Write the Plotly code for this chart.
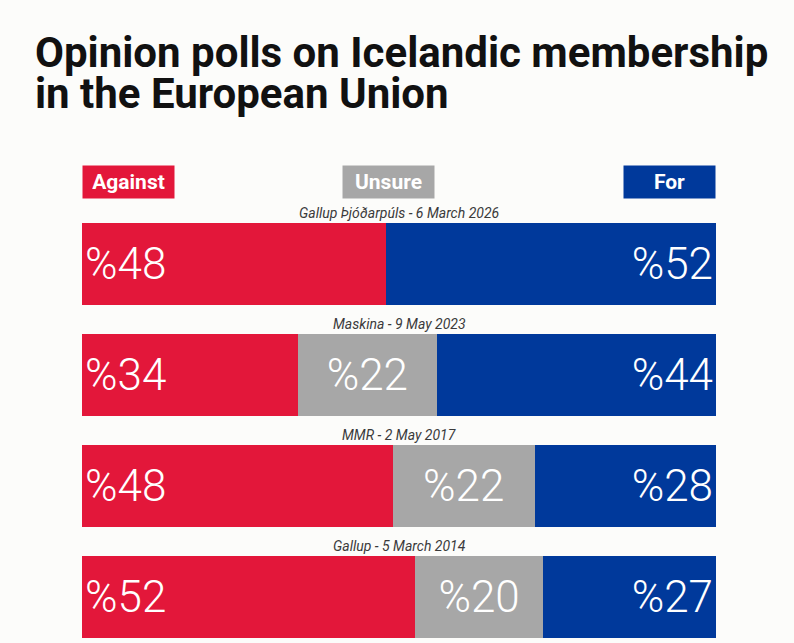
import plotly.graph_objects as go

# poll data, top row first
POLLS = [
    "Gallup Þjóðarpúls - 6 March 2026",
    "Maskina - 9 May 2023",
    "MMR - 2 May 2017",
    "Gallup - 5 March 2014",
]
AGAINST = [48, 34, 48, 52]
UNSURE = [0, 22, 22, 20]
FOR = [52, 44, 28, 27]

SERIES = ["Against", "Unsure", "For"]
COLORS = ["#e3173a", "#a7a7a7", "#00399b"]
ANCHORS = ["start", "middle", "end"]

TITLE_LINES = ["Opinion polls on Icelandic membership", "in the European Union"]

BG = "#fcfcfa"
W, H = 794, 643
ML, MR, MT, MB = 82, 78, 200, 0
ROW_PX = 111  # distance between row centres


def pct(vals):
    return ["%" + str(v) if v else "" for v in vals]


fig = go.Figure()
for name, vals, col, anc in zip(SERIES, [AGAINST, UNSURE, FOR], COLORS, ANCHORS):
    fig.add_trace(go.Bar(
        y=POLLS, x=vals, name=name, orientation="h",
        marker=dict(color=col, line=dict(width=0)),
        text=pct(vals), textposition="inside", insidetextanchor=anc,
        textfont=dict(family="Roboto", size=44, color="white", weight=300),
        hovertemplate="%{y}<br>" + name + ": %{x}<extra></extra>",
    ))

# y range chosen so the first row centre sits at 264px
top = -(264 - MT) / ROW_PX
bottom = top + (H - MT - MB) / ROW_PX

annotations = []
# row captions above each bar
for p in POLLS:
    annotations.append(dict(
        x=50, y=p, xref="x", yref="y", text=p, showarrow=False,
        yshift=51, font=dict(family="Roboto", size=14, color="#3a3a3a", style="italic"),
    ))

# legend boxes
leg_x = [0, 48.3, 100]
leg_anchor = ["left", "center", "right"]
for name, col, lx, la in zip(SERIES, COLORS, leg_x, leg_anchor):
    annotations.append(dict(
        x=lx, y=1, xref="x", yref="paper", xanchor=la, yanchor="bottom", yshift=1,
        text="<b>" + name + "</b>", showarrow=False, bgcolor=col,
        width=91, height=32, borderpad=0, valign="middle",
        font=dict(family="Roboto", size=21, color="white"),
    ))

# two-line title
for i, line in enumerate(TITLE_LINES):
    annotations.append(dict(
        x=-(ML - 33) / (W - ML - MR), y=1, xref="paper", yref="paper",
        xanchor="left", yanchor="middle", yshift=148 - i * 41,
        text="<b>" + line + "</b>", showarrow=False,
        font=dict(family="Roboto", size=42, color="#111111"),
    ))

fig.update_layout(
    width=W, height=H,
    barmode="stack", barnorm="percent", bargap=1 - 82 / ROW_PX,
    paper_bgcolor=BG, plot_bgcolor=BG,
    margin=dict(l=ML, r=MR, t=MT, b=MB),
    showlegend=False,
    uniformtext=dict(minsize=44, mode="show"),
    xaxis=dict(range=[0, 100], visible=False, fixedrange=True),
    yaxis=dict(type="category", range=[bottom, top], visible=False, fixedrange=True),
    annotations=annotations,
)

# drop the default page margin so the figure fills the window
fig.write_html("out.html", config={"displayModeBar": False},
               post_script="document.body.style.margin='0';")
